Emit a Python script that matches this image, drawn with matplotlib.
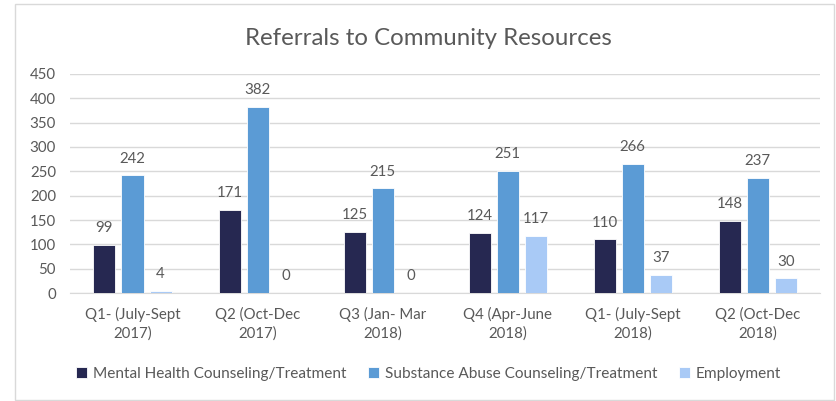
import numpy as np
import matplotlib.pyplot as plt
from matplotlib.patches import Rectangle

plt.rcParams['font.family'] = ['Lato', 'DejaVu Sans']

trimestres = ['Q1- (July-Sept\n2017)', 'Q2 (Oct-Dec\n2017)', 'Q3 (Jan- Mar\n2018)',
              'Q4 (Apr-June\n2018)', 'Q1- (July-Sept\n2018)', 'Q2 (Oct-Dec\n2018)']
salud_mental = [99, 171, 125, 124, 110, 148]
abuso_sustancias = [242, 382, 215, 251, 266, 237]
empleo = [4, 0, 0, 117, 37, 30]

series = [
    ('Mental Health Counseling/Treatment', salud_mental, '#262851'),
    ('Substance Abuse Counseling/Treatment', abuso_sustancias, '#5B9BD5'),
    ('Employment', empleo, '#A9CAF6'),
]

GRIS_TEXTO = '#595959'

fig = plt.figure(figsize=(8.37, 4.01), dpi=100)
ax = fig.add_axes([0.0836, 0.2693, 0.8964, 0.5462])

# borde del grafico
fig.patches.append(Rectangle((15 / 837, 0.002), 1 - 15 / 837 - 0.003, 1 - 4 / 401 - 0.002,
                             transform=fig.transFigure, fill=False,
                             edgecolor='#D9D9D9', linewidth=1))

x = np.arange(len(trimestres))
ancho = 0.176
paso = 0.224
for i, (nombre, valores, color) in enumerate(series):
    pos = x + (i - 1) * paso
    barras = ax.bar(pos, valores, width=ancho, color=color, edgecolor='white',
                    linewidth=0.6, label=nombre, zorder=3)
    for xb, v in zip(pos, valores):
        ax.annotate(str(v), (xb, v), xytext=(0, 7), textcoords='offset points',
                    ha='center', va='bottom', fontsize=10.8, color=GRIS_TEXTO)

ax.set_xlim(-0.5, len(trimestres) - 0.5)
ax.set_ylim(0, 450)
ax.set_yticks(range(0, 451, 50))
ax.set_xticks(x)
ax.set_xticklabels(trimestres, linespacing=1.35)
ax.tick_params(axis='both', length=0, labelsize=10.8, labelcolor=GRIS_TEXTO)
ax.tick_params(axis='y', pad=10)
ax.tick_params(axis='x', pad=10)
ax.grid(axis='y', color='#D9D9D9', linewidth=1, zorder=0)
for lado in ['top', 'right', 'left']:
    ax.spines[lado].set_visible(False)
ax.spines['bottom'].set_color('#D9D9D9')

fig.suptitle('Referrals to Community Resources', x=0.512, y=0.93, fontsize=17.3,
             color=GRIS_TEXTO)

fig.legend(loc='center', bbox_to_anchor=(0.512, 0.067), ncol=3, frameon=False,
           fontsize=11.1, labelcolor=GRIS_TEXTO, handlelength=0.7, handleheight=0.7,
           handletextpad=0.4, columnspacing=1.4)

fig.savefig('out.png', dpi=100)
